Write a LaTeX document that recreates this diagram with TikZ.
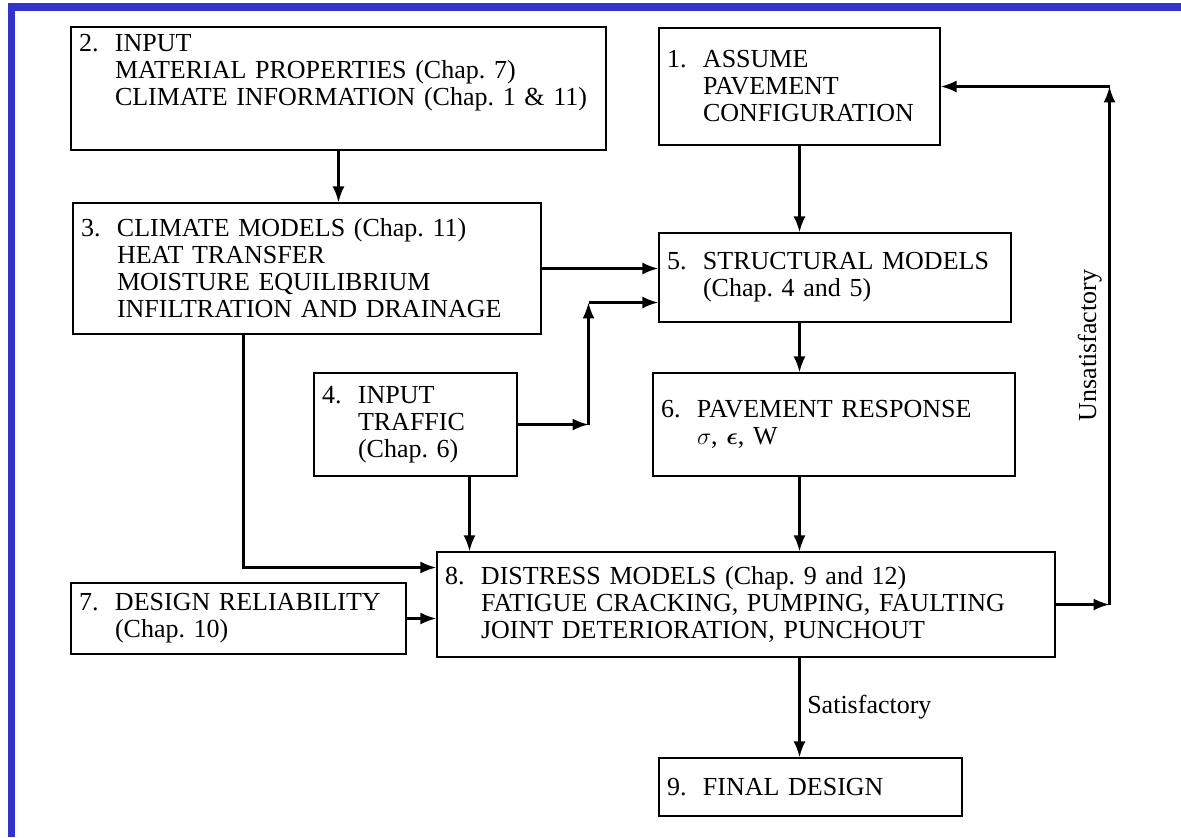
\documentclass[tikz,border=0pt]{standalone}
\usepackage{amsmath}
\usepackage{fontspec}
\setmainfont{Liberation Serif}
\usetikzlibrary{arrows.meta}
\definecolor{frameblue}{RGB}{52,50,204}
\newcommand{\stepno}[1]{\makebox[18pt][l]{#1}}
\newcommand{\cont}{\hspace*{18pt}}
\tikzset{
    every node/.style={align=left,},
    block/.style={draw,rectangle,line width=0.7pt,inner xsep=4pt,},
}

\begin{document}
\begin{tikzpicture}[x=0.5pt,y=-0.5pt,line width=1.1pt,font=\fontsize{13}{13.5}\selectfont]
    \useasboundingbox (0,0) rectangle (1181,837);
    \fill[frameblue] (8,3) rectangle (1181,11);
    \fill[frameblue] (8,3) rectangle (15,837);

    \node[block, text width=132.5pt, minimum height=58.5pt] (assume) at (799.5,86.5) {\stepno{1.}ASSUME\\\cont PAVEMENT\\\cont CONFIGURATION};
    \node[block, text width=259.5pt, minimum height=61.5pt] (input) at (338.5,88.5) {\stepno{2.}INPUT\\\cont MATERIAL PROPERTIES (Chap.~7)\\\cont CLIMATE INFORMATION (Chap.~1 \& 11)\\[5pt]\mbox{}};
    \node[block, text width=226pt, minimum height=65.5pt] (climate) at (307,268.5) {\stepno{3.}CLIMATE MODELS (Chap.~11)\\\cont HEAT TRANSFER\\\cont MOISTURE EQUILIBRIUM\\\cont INFILTRATION AND DRAINAGE};
    \node[block, text width=93.5pt, minimum height=51.5pt] (traffic) at (415.5,424.5) {\stepno{4.}INPUT\\\cont TRAFFIC\\\cont (Chap.~6)};
    \node[block, text width=168pt, minimum height=44.5pt] (structural) at (835,277.5) {\stepno{5.}STRUCTURAL MODELS\\\cont (Chap.~4 and 5)};
    \node[block, text width=173pt, minimum height=51.5pt] (response) at (834,424.5) {\stepno{6.}PAVEMENT RESPONSE\\\cont $\sigma$, $\boldsymbol{\epsilon}$, W};
    \node[block, text width=159.5pt, minimum height=35.5pt] (reliability) at (238.5,618.5) {\stepno{7.}DESIGN RELIABILITY\\\cont (Chap.~10)};
    \node[block, text width=301pt, minimum height=52.5pt] (distress) at (746,604.5) {\stepno{8.}DISTRESS MODELS (Chap.~9 and 12)\\\cont FATIGUE CRACKING, PUMPING, FAULTING\\\cont JOINT DETERIORATION, PUNCHOUT};
    \node[block, text width=143.5pt, minimum height=29pt] (final) at (810.5,787) {\stepno{9.}FINAL DESIGN};

    \coordinate (tbend) at (588.5,424.5);
    \coordinate (ttop) at (588.5,302.5);
    \coordinate (fbbot) at (1109.5,604.5);
    \coordinate (fbtop) at (1109.5,86.5);

    \draw[-Latex] (input.south) to (input.south |- climate.north);
    \draw[-Latex] (assume.south) to (assume.south |- structural.north);
    \draw[-Latex] (climate.east) to (climate.east -| structural.west);
    \draw[-Latex] (traffic.east) to (tbend);
    \draw[-Latex] (tbend) to (ttop);
    \draw[-Latex] (ttop) to (ttop -| structural.west);
    \draw[-Latex] (structural.south -| assume.south) to (response.north -| assume.south);
    \draw[-Latex] (response.south -| assume.south) to (distress.north -| assume.south);
    \draw[-Latex] ([xshift=27pt]traffic.south) to ([xshift=27pt]traffic.south |- distress.north);
    \draw[-Latex] ([xshift=-31.75pt]climate.south) |- ([yshift=18.5pt]distress.west);
    \draw[-Latex] (reliability.east) to (reliability.east -| distress.west);

    \draw[-Latex] (distress.east) to (fbbot);
    \draw[-Latex] (fbbot) to node[midway, rotate=90, anchor=south] {Unsatisfactory} (fbtop);
    \draw[-Latex] (fbtop) to (assume.east);
    \draw[-Latex] (distress.south -| assume.south) to node[right] {Satisfactory} (final.north -| assume.south);
\end{tikzpicture}
\end{document}
